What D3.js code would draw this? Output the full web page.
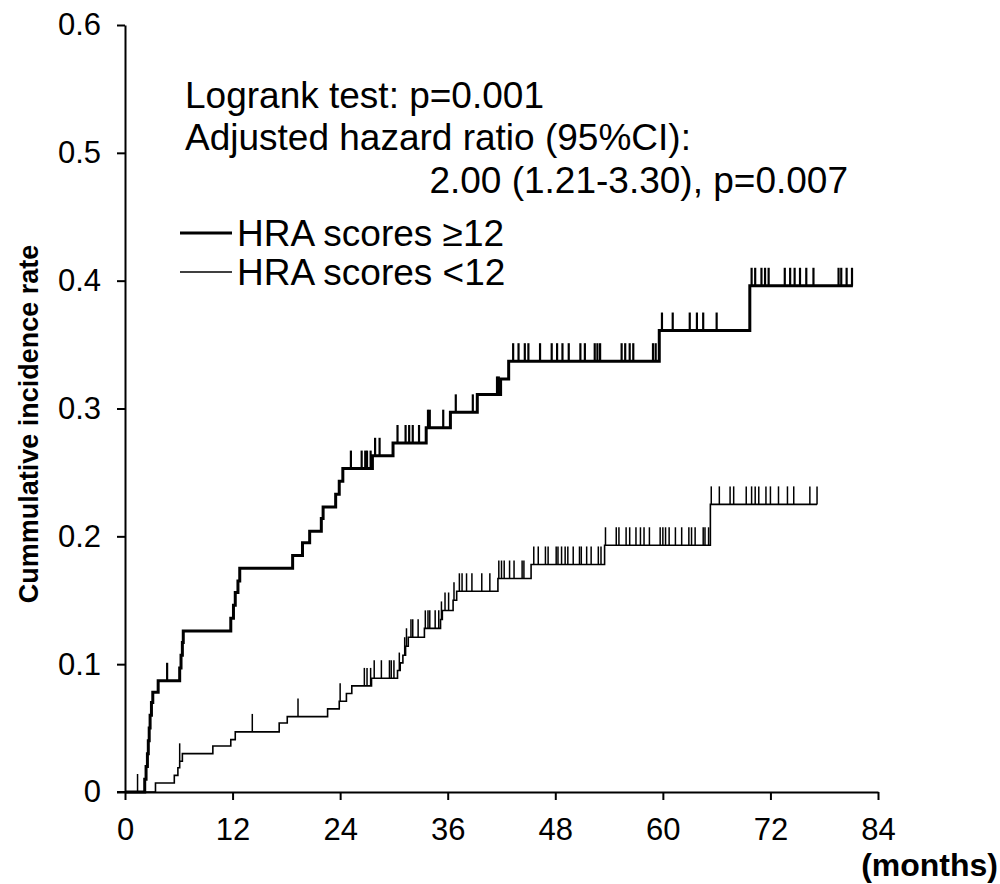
<!DOCTYPE html>
<meta charset="utf-8">
<html>
<body style="margin:0;background:#fff">
<div id="chartContainer"></div>
<script src="https://cdn.jsdelivr.net/npm/d3@7"></script>
<script type="text/javascript">

  // step curves: [month, cumulative incidence]
  var highSteps = [[0,0],[2.2,0.01],[2.35,0.02],[2.5,0.03],[2.6,0.04],[2.7,0.05],[2.8,0.06],[2.95,0.07],[3.1,0.078],
    [3.7,0.087],[6.1,0.097],[6.25,0.107],[6.4,0.117],[6.5,0.126],[11.8,0.136],[12.1,0.146],[12.3,0.156],[12.6,0.165],
    [12.8,0.175],[18.7,0.185],[19.8,0.195],[20.6,0.204],[21.9,0.214],[22.1,0.223],[23.5,0.233],[23.9,0.243],[24.3,0.253],
    [27.6,0.263],[29.9,0.273],[33.6,0.285],[36.3,0.297],[39.3,0.311],[41.9,0.323],[42.8,0.337],[59.6,0.361],[69.7,0.396]];
  var highEnd = 81.2;
  var highCensor = [4.7,25.2,26.4,26.8,27.0,27.4,27.9,28.4,30.4,31.3,31.7,32.1,32.8,33.8,34.0,35.5,36.9,38.8,41.5,41.7,
    43.3,43.9,44.6,45.0,46.3,47.6,48.2,48.8,49.5,50.8,51.3,52.4,52.7,53.0,55.4,55.8,56.3,56.7,58.9,59.2,
    59.9,61.1,63.0,63.8,64.5,66.0,69.9,70.3,71.0,71.4,71.8,73.6,74.2,74.7,75.3,76.0,76.8,79.6,79.9,80.5,81.1];

  var lowSteps = [[0,0],[3.4,0.007],[5.5,0.013],[5.9,0.019],[6.1,0.024],[6.4,0.030],[9.8,0.036],[11.8,0.041],[12.3,0.047],
    [17.2,0.054],[18.1,0.059],[22.6,0.065],[23.9,0.071],[24.7,0.077],[25.3,0.083],[27.5,0.089],[30.4,0.095],[30.7,0.101],
    [31.0,0.107],[31.3,0.114],[31.6,0.121],[33.4,0.128],[35.2,0.135],[35.4,0.142],[36.6,0.150],[37.0,0.157],[41.6,0.167],
    [45.3,0.178],[53.5,0.193],[65.3,0.225]];
  var lowEnd = 77.2;
  var lowCensor = [1.4,6.1,14.2,19.3,24.0,26.7,27.0,27.4,27.8,28.6,29.5,29.7,30.0,30.6,31.2,31.4,31.9,32.1,32.7,33.5,33.8,
    34.0,34.6,35.0,35.3,35.7,36.1,36.7,37.3,37.6,38.1,38.7,39.8,40.7,41.7,42.0,42.3,42.9,43.4,44.3,44.5,45.6,46.1,46.9,47.2,
    48.1,48.3,48.7,49.1,49.4,50.0,50.7,50.9,51.5,52.0,52.8,53.1,53.6,54.8,55.1,55.9,56.3,57.0,57.5,57.9,58.5,59.7,60.0,
    60.3,60.7,61.4,62.1,62.9,63.2,63.6,64.5,64.7,65.1,65.4,66.3,67.5,67.9,69.3,69.9,70.3,70.7,71.5,72.0,72.9,73.9,74.6,76.4,77.2];

  var xTicks = [0, 12, 24, 36, 48, 60, 72, 84];
  var yTicks = [0, 0.1, 0.2, 0.3, 0.4, 0.5, 0.6];

  var W = 1000, H = 884;
  var font = "'Liberation Sans', Arial, sans-serif";
  var svg = d3.select("#chartContainer").append("svg")
    .attr("width", W).attr("height", H)
    .style("font-family", font);

  var x = d3.scaleLinear().domain([0, 84]).range([125, 878]);
  var y = d3.scaleLinear().domain([0, 0.6]).range([792, 25]);

  // axes
  var xAxis = svg.append("g").attr("transform", "translate(0,792)")
    .call(d3.axisBottom(x).tickValues(xTicks).tickSize(8).tickPadding(18).tickSizeOuter(0));
  var yAxis = svg.append("g").attr("transform", "translate(125,0)")
    .call(d3.axisLeft(y).tickValues(yTicks).tickSize(8).tickPadding(16).tickSizeOuter(0)
      .tickFormat(function (d) { return d === 0 ? "0" : d3.format(".1f")(d); }));
  [xAxis, yAxis].forEach(function (g) {
    g.select(".domain").attr("stroke", "#000").attr("stroke-width", 2);
    g.selectAll(".tick line").attr("stroke", "#000").attr("stroke-width", 2);
    g.selectAll(".tick text").attr("fill", "#000").style("font-size", "31px").style("font-family", font);
  });
  // x-axis line extends a bit left of origin
  svg.append("line").attr("x1", 117).attr("x2", 125).attr("y1", 792).attr("y2", 792)
    .attr("stroke", "#000").attr("stroke-width", 2);

  function valueAt(steps, t) {
    var v = 0;
    steps.forEach(function (s) { if (s[0] <= t) v = s[1]; });
    return v;
  }

  var line = d3.line().x(function (d) { return x(d[0]); }).y(function (d) { return y(d[1]); })
    .curve(d3.curveStepAfter);

  function drawGroup(steps, end, censor, width, cwidth) {
    var pts = steps.concat([[end, steps[steps.length - 1][1]]]);
    svg.append("path").datum(pts).attr("d", line)
      .attr("fill", "none").attr("stroke", "#000").attr("stroke-width", width);
    svg.append("g").selectAll("line").data(censor).enter().append("line")
      .attr("x1", function (d) { return x(d); })
      .attr("x2", function (d) { return x(d); })
      .attr("y1", function (d) { return y(valueAt(steps, d)); })
      .attr("y2", function (d) { return y(valueAt(steps, d)) - 18; })
      .attr("stroke", "#000").attr("stroke-width", cwidth);
  }
  drawGroup(lowSteps, lowEnd, lowCensor, 1.6, 1.5);
  drawGroup(highSteps, highEnd, highCensor, 3, 2.2);

  // annotation
  var ann = svg.append("g").style("font-size", "37px").attr("fill", "#000");
  ann.append("text").attr("x", 185).attr("y", 108).text("Logrank test: p=0.001");
  ann.append("text").attr("x", 185).attr("y", 150).text("Adjusted hazard ratio (95%CI):");
  ann.append("text").attr("x", 848).attr("y", 193).attr("text-anchor", "end").text("2.00 (1.21-3.30), p=0.007");

  // legend
  var legend = [{label: "HRA scores \u226512", w: 3, y: 233}, {label: "HRA scores <12", w: 1.6, y: 272}];
  legend.forEach(function (l) {
    svg.append("line").attr("x1", 180).attr("x2", 232).attr("y1", l.y).attr("y2", l.y)
      .attr("stroke", "#000").attr("stroke-width", l.w);
    svg.append("text").attr("x", 237).attr("y", l.y + 13).style("font-size", "37px").text(l.label);
  });

  // axis titles
  svg.append("text").attr("transform", "translate(38,424) rotate(-90)")
    .attr("text-anchor", "middle").style("font-size", "27px").style("font-weight", "bold")
    .text("Cummulative incidence rate");
  svg.append("text").attr("x", 998).attr("y", 876).attr("text-anchor", "end")
    .style("font-size", "32px").style("font-weight", "bold").text("(months)");
</script>
</body>
</html>
